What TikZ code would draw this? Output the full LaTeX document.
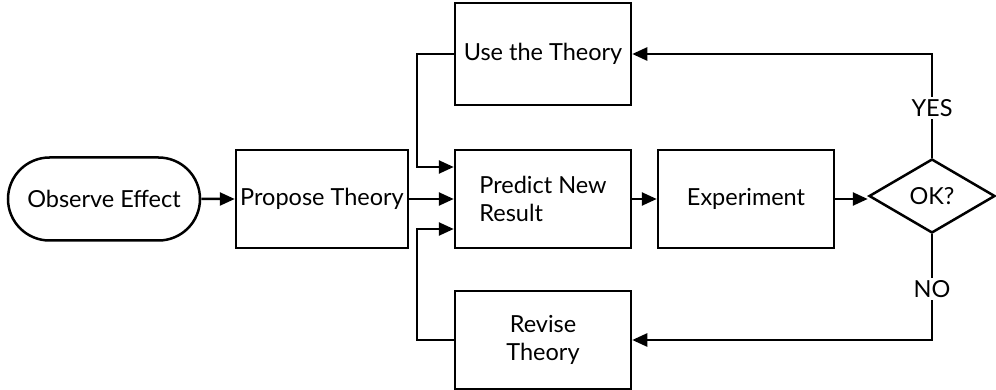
\documentclass[tikz,border=0pt]{standalone}
\usepackage{fontspec}
\setmainfont{Lato}
\usetikzlibrary{shapes.misc,shapes.geometric,arrows.meta}
\begin{document}
\begin{tikzpicture}[x=1pt,y=-1pt,
  every node/.style={font=\fontsize{23.5}{28}\selectfont, line width=2.5pt, inner sep=0pt, align=center},
  box/.style={draw, rectangle, minimum width=176pt, minimum height=98pt},
  stadium/.style={draw, rounded rectangle, minimum width=192pt, minimum height=83pt},
  decide/.style={draw, diamond, aspect=1.7, minimum width=126pt, minimum height=74pt},
  lab/.style={fill=white, inner sep=2pt},
  arr/.style={line width=2.5pt, -{Triangle[length=15pt,width=13pt]}},
  ln/.style={line width=2.5pt}]
\useasboundingbox (0,0) rectangle (996,390);
\node[stadium] (obs) at (104,199) {Observe Effect};
\node[box, minimum width=172pt] (prop) at (322,199) {Propose Theory};
\node[box, align=left] (pred) at (543,199) {Predict New\\Result};
\node[box, minimum height=102pt] (use) at (543,54) {Use the Theory};
\node[box] (rev) at (543,340) {Revise\\Theory};
\node[box] (exp) at (746,199) {Experiment};
\node[decide] (ok) at (932,196) {OK?};
\coordinate (lx) at (417,0);
\draw[arr] (obs) -- (prop);
\draw[arr] (prop.east) -- (pred.west);
\draw[arr] (pred) -- (exp);
\draw[arr] (exp.east) -- (exp.east -| ok.west);
\draw[arr] (use.west) -- (use.west -| lx) |- ([yshift=32pt]pred.west);
\draw[arr] (rev.west) -- (rev.west -| lx) |- ([yshift=-30pt]pred.west);
\draw[arr] (ok.north) -- (ok.north |- use.east) -- (use.east);
\draw[arr] (ok.south) -- (ok.south |- rev.east) -- (rev.east);
\node[lab] (yes) at (932,108) {YES};
\node[lab] (no) at (932,289) {NO};
\end{tikzpicture}
\end{document}
